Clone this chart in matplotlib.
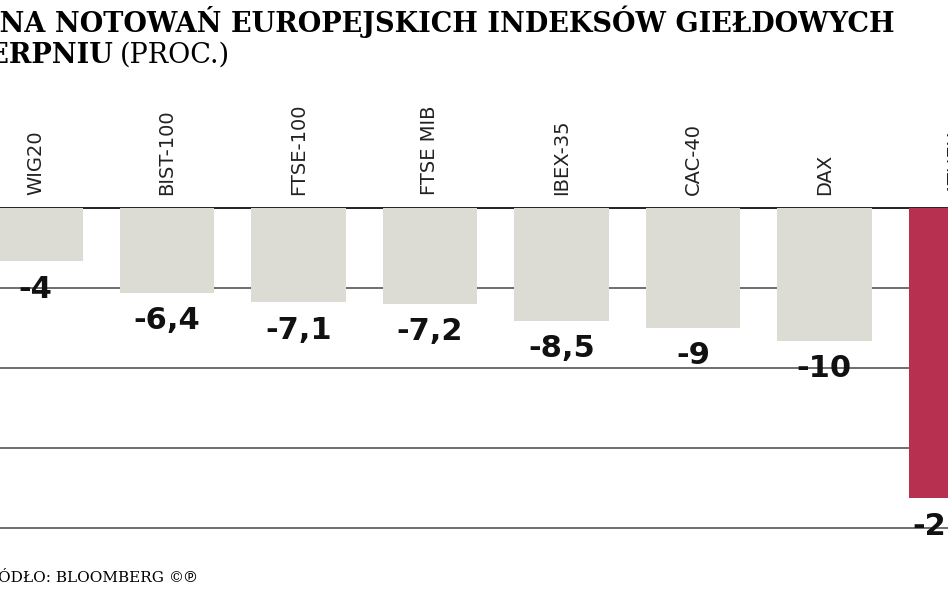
import matplotlib.pyplot as plt

names = ["WIG20", "BIST-100", "FTSE-100", "FTSE MIB", "IBEX-35", "CAC-40", "DAX", "ATHEX"]
values = [-4, -6.4, -7.1, -7.2, -8.5, -9, -10, -21.8]
labels = ["-4", "-6,4", "-7,1", "-7,2", "-8,5", "-9", "-10", "-21,8"]
grid = [-6, -12, -18, -24]

cond = ["Liberation Sans Narrow", "DejaVu Sans"]

fig = plt.figure(figsize=(9.48, 5.93), dpi=100)
ax = fig.add_axes([0, 0, 1, 1])
ax.set_xlim(-0.27, 6.94)
ax.set_ylim(-28.9, 15.6)
ax.axis("off")

for g in grid:
    ax.axhline(g, color="#555555", lw=1.2, zorder=1)
ax.axhline(0, color="#222222", lw=1.4, zorder=1)

colors = ["#dcdcd4"] * 7 + ["#b8304f"]
x = list(range(len(names)))
ax.bar(x, values, width=0.72, color=colors, zorder=2)

for i in x:
    ax.text(i, 1.0, names[i], rotation=90, ha="center", va="bottom",
            fontsize=14, family=cond, color="#222222")
    ax.text(i, values[i] - 1.0, labels[i], ha="center", va="top",
            fontsize=22, fontweight="bold", family=cond, color="#111111")

serif = ["DejaVu Serif", "Noto Sans", "DejaVu Sans"]
fig.text(895 / 948, 0.99, "ZMIANA NOTOWAŃ EUROPEJSKICH INDEKSÓW GIEŁDOWYCH",
         ha="right", va="top", fontsize=19.5, fontweight="heavy", family=serif)
fig.text(113 / 948, 0.93, "W SIERPNIU", ha="right", va="top", fontsize=19.5,
         fontweight="heavy", family=serif)
fig.text(120 / 948, 0.93, "(PROC.)", ha="left", va="top", fontsize=19.5, family=serif)
fig.text(-0.025, 0.025, "ŹRÓDŁO: BLOOMBERG ©℗", ha="left", va="center",
         fontsize=11, family=serif)

fig.savefig("out.png", dpi=100)
